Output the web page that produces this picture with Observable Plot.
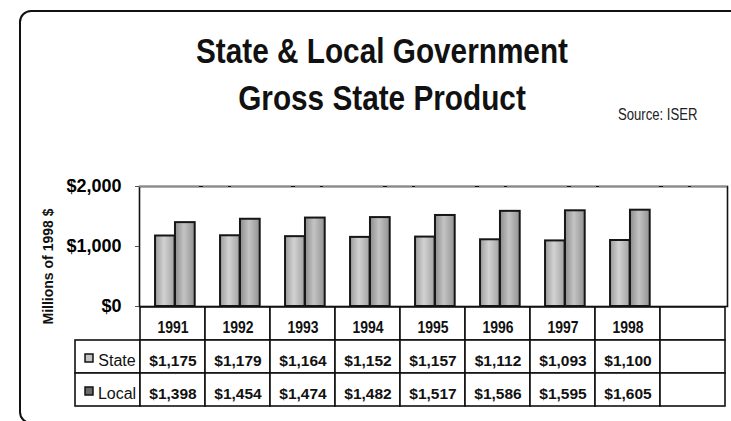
<!DOCTYPE html>
<html><head><meta charset="utf-8">
<script src="https://cdn.jsdelivr.net/npm/d3@7"></script>
<script src="https://cdn.jsdelivr.net/npm/@observablehq/plot@0.6"></script>
<style>
html,body{margin:0;padding:0;background:#fff;overflow:hidden}
#wrap{position:relative;width:731px;height:421px;overflow:hidden;background:#fff}
#border{position:absolute;left:19px;top:10px;width:730px;height:414px;border:2px solid #111;border-radius:12px;box-sizing:border-box}
#title{position:absolute;left:0;top:27px;width:764px;text-align:center;font-family:"Liberation Sans",Arial,sans-serif;font-weight:bold;font-size:35px;line-height:47px;color:#111;transform:scaleX(0.85);transform-origin:382px 0}
#source{position:absolute;left:618px;top:107px;font-family:"Liberation Sans",Arial,sans-serif;font-size:16px;line-height:16px;color:#222;transform:scaleX(0.82);transform-origin:0 0}
#chart{position:absolute;left:0;top:0}
#table{position:absolute;left:0;top:300px}
</style>
</head><body>
<div id="wrap">
  <svg width="0" height="0" style="position:absolute">
    <defs>
      <linearGradient id="gState" x1="0" x2="1" y1="0" y2="0">
        <stop offset="0" stop-color="#9c9c9c"/><stop offset="0.45" stop-color="#d2d2d2"/><stop offset="1" stop-color="#a2a2a2"/>
      </linearGradient>
      <linearGradient id="gLocal" x1="0" x2="1" y1="0" y2="0">
        <stop offset="0" stop-color="#8c8c8c"/><stop offset="0.45" stop-color="#c4c4c4"/><stop offset="1" stop-color="#929292"/>
      </linearGradient>
    </defs>
  </svg>
  <div id="border"></div>
  <div id="title">State &amp; Local Government<br>Gross State Product</div>
  <div id="source">Source: ISER</div>
  <div id="chart"></div>
  <div id="table"></div>
</div>
<script>
const years = ["1991","1992","1993","1994","1995","1996","1997","1998"];
const stateValues = [1175,1179,1164,1152,1157,1112,1093,1100];
const localValues = [1398,1454,1474,1482,1517,1586,1595,1605];
const seriesNames = ["State","Local"];
const yTicks = [0,1000,2000];
const yLabel = "Millions of 1998 $";
const columns = [...years, ""];

const W = 731, ML = 139, MR = 4;
const bw = (W - ML - MR) / columns.length;
const money = d => "$" + d3.format(",")(d);
const sans = '"Liberation Sans",Arial,sans-serif';

const stateData = years.map((y,i) => ({year:y, value:stateValues[i]}));
const localData = years.map((y,i) => ({year:y, value:localValues[i]}));

const chart = Plot.plot({
  width: W, height: 310,
  marginTop: 186, marginBottom: 4, marginLeft: ML, marginRight: MR,
  style: {background:"transparent", overflow:"visible"},
  x: {type:"band", domain: columns, padding: 0, axis: null},
  y: {domain: [0, 2000], axis: null},
  marks: [
    Plot.frame({fill:"white", stroke:"#111", strokeWidth:1.6}),
    Plot.ruleY([yTicks[yTicks.length-1]], {stroke:"#8a8a8a", strokeWidth:1.6, strokeDasharray:"60,4,25,3"}),
    Plot.barY(stateData, {x:"year", y:"value", fill:"url(#gState)", stroke:"#161616", strokeWidth:2,
      insetLeft: bw*0.215, insetRight: bw*0.48}),
    Plot.barY(localData, {x:"year", y:"value", fill:"url(#gLocal)", stroke:"#161616", strokeWidth:2,
      insetLeft: bw*0.52, insetRight: bw*0.173}),
    Plot.axisY({ticks: yTicks, tickFormat: money, tickSize: 4, tickPadding: 14,
      fontSize: 18, fontWeight: "bold", fontFamily: sans, label: null, stroke:"#555"}),
    Plot.text([yLabel], {text: d => d, frameAnchor:"left", textAnchor:"middle", rotate:-90, dx:-91, dy:20,
      fontSize: 14, fontWeight:"bold", fontFamily: sans, fill:"#111"})
  ]
});
document.getElementById("chart").appendChild(chart);

// table
const tableCols = ["rowLabel", ...columns];
const yearCells = columns.map(c => ({col:c, row:"year", text:c}));
const valueCells = [];
seriesNames.forEach((s, si) => {
  const vals = si === 0 ? stateValues : localValues;
  valueCells.push({col:"rowLabel", row:s, text:""});
  years.forEach((y,i) => valueCells.push({col:y, row:s, text: money(vals[i])}));
  valueCells.push({col:"", row:s, text:""});
});
const labelCells = seriesNames.map(s => ({col:"rowLabel", row:s, text:s}));

const table = Plot.plot({
  width: W, height: 121,
  marginTop: 6, marginBottom: 14, marginLeft: ML - bw, marginRight: MR,
  style: {background:"transparent", overflow:"visible"},
  x: {type:"band", domain: tableCols, padding: 0, axis: null},
  y: {type:"band", domain: ["year", ...seriesNames], padding: 0, axis: null},
  marks: [
    Plot.cell([...yearCells, ...valueCells], {x:"col", y:"row", fill:"white", stroke:"#111", strokeWidth:1.6}),
    Plot.text(yearCells, {x:"col", y:"row", text:"text", fontFamily: sans, fontSize: 17, fontWeight:"bold", dy: 4, fill:"#111"}),
    Plot.text(valueCells, {x:"col", y:"row", text:"text", fontFamily: sans, fontSize: 15.5, fontWeight:"bold", dy: 4, fill:"#111"}),
    Plot.text(labelCells, {x:"col", y:"row", text:"text", fontFamily: sans, fontSize: 16, dx: 9, dy: 4, fill:"#111"}),
    Plot.dot(labelCells.filter(d => d.text === seriesNames[0]), {x:"col", y:"row", symbol:"square", r:4.5, dx:-19, dy:1, fill:"#c4c4c4", stroke:"#111", strokeWidth:1.5}),
    Plot.dot(labelCells.filter(d => d.text === seriesNames[1]), {x:"col", y:"row", symbol:"square", r:4.5, dx:-19, dy:1, fill:"#6a6a6a", stroke:"#111", strokeWidth:1.5})
  ]
});
// condense the year labels like the original's narrow face
d3.select(table).selectAll("text")
  .filter(function() { return years.includes(this.textContent); })
  .attr("textLength", 31).attr("lengthAdjust", "spacingAndGlyphs");
document.getElementById("table").appendChild(table);
</script>
</body></html>
